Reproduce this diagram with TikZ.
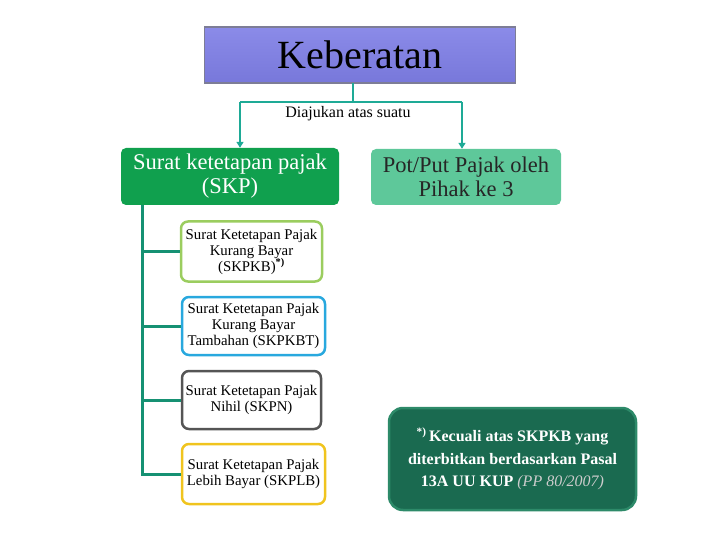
\documentclass[tikz,border=0pt]{standalone}
\usepackage{fontspec}
\setmainfont{Liberation Serif}
\usetikzlibrary{arrows.meta}
\definecolor{kebfill}{RGB}{126,126,230}
\definecolor{kebline}{RGB}{125,125,150}
\definecolor{teal1}{RGB}{30,170,150}
\definecolor{treecol}{RGB}{22,145,115}
\definecolor{skpfill}{RGB}{16,160,78}
\definecolor{potfill}{RGB}{94,200,154}
\definecolor{boxA}{RGB}{155,205,95}
\definecolor{boxB}{RGB}{40,168,222}
\definecolor{boxC}{RGB}{85,85,85}
\definecolor{boxD}{RGB}{240,196,30}
\definecolor{notefill}{RGB}{26,106,80}
\definecolor{noteline}{RGB}{45,138,105}
\begin{document}
\begin{tikzpicture}[x=1pt,y=-1pt,
  conn/.style={teal1,line width=2pt},
  arr/.style={conn,-{Triangle[width=7pt,length=6pt]}},
  tree/.style={treecol,line width=3pt},
  headbox/.style={rounded corners=5pt,inner sep=0pt,align=center,
     font=\fontsize{22.5}{24}\selectfont},
  subbox/.style={draw,line width=2.5pt,rounded corners=7pt,fill=white,inner sep=0pt,
     align=center,font=\fontsize{14.8}{16}\selectfont}]
\useasboundingbox (0,0) rectangle (720,540);
\node[draw=kebline,line width=1.5pt,top color=kebfill!90!white,bottom color=kebfill!95!black,
  minimum width=311pt,minimum height=56pt,inner sep=0pt,
  font=\fontsize{40}{42}\selectfont] (keb) at (360,55) {Keberatan};
\node[headbox,fill=skpfill,text=white,minimum width=218pt,minimum height=57pt] (skp) at (230,176.5)
  {Surat ketetapan pajak\\(SKP)};
\node[headbox,fill=potfill,text=black!85,minimum width=190pt,minimum height=56pt] (pot) at (466,177)
  {Pot/Put Pajak oleh\\Pihak ke 3};
\coordinate (stemtop) at (353,83);
\coordinate (stembot) at (353,102);
\coordinate (jl) at (240,102);
\coordinate (jr) at (462,102);
\draw[conn] (stemtop) -- (stembot);
\draw[conn] (jl) -- (jr);
\draw[arr] (jl) -- (jl |- skp.north);
\draw[arr] (jr) -- (jr |- pot.north);
\node[font=\fontsize{16}{18}\selectfont] (dia) at (348,114) {Diajukan atas suatu};
\node[subbox,draw=boxA,minimum width=141pt,minimum height=60pt] (b1) at (251.5,251.5)
  {Surat Ketetapan Pajak\\Kurang Bayar\\(SKPKB)\textsuperscript{\bfseries*)}};
\node[subbox,draw=boxB,minimum width=143pt,minimum height=58pt] (b2) at (253.5,326)
  {Surat Ketetapan Pajak\\Kurang Bayar\\Tambahan (SKPKBT)};
\node[subbox,draw=boxC,minimum width=139pt,minimum height=58pt] (b3) at (251.5,400)
  {Surat Ketetapan Pajak\\Nihil (SKPN)};
\node[subbox,draw=boxD,minimum width=143pt,minimum height=60pt] (b4) at (253.5,474)
  {Surat Ketetapan Pajak\\Lebih Bayar (SKPLB)};
\coordinate (treetop) at (142,205);
\draw[tree] (treetop) -- (142,475.5);
\draw[tree] (142,251.5) -- (b1.west);
\draw[tree] (142,326) -- (b2.west);
\draw[tree] (142,400) -- (b3.west);
\draw[tree] (142,474) -- (b4.west);
\node[draw=noteline,line width=2.5pt,fill=notefill,rounded corners=14pt,
  minimum width=247pt,minimum height=102pt,inner sep=0pt,align=center,text=white,
  font=\fontsize{16}{22.5}\selectfont\bfseries] (note) at (512.5,459)
  {\textsuperscript{*)}\,Kecuali atas SKPKB yang\\diterbitkan berdasarkan Pasal\\13A UU KUP {\mdseries\itshape\color{black!20}(PP 80/2007)}};
\end{tikzpicture}
\end{document}
